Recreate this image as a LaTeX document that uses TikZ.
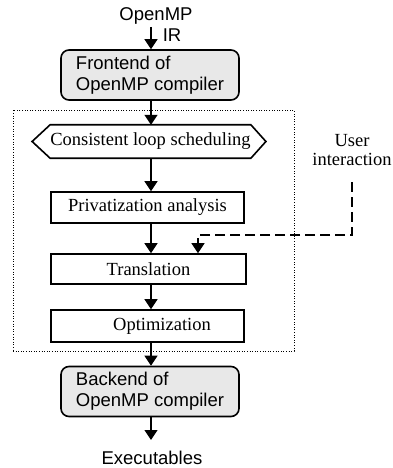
\documentclass[tikz,border=0pt]{standalone}
\usepackage{fontspec}
\setmainfont{Liberation Serif}
\newfontfamily\arialfont{Liberation Sans}
\usetikzlibrary{arrows.meta,calc}
\begin{document}
\begin{tikzpicture}[x=1pt,y=-1pt,
  base/.style={font=\fontsize{18.5}{21}\selectfont, inner sep=0pt},
  sans/.style={base, font=\arialfont\fontsize{18.5}{21}\selectfont},
  gbox/.style={sans, draw, line width=1.6pt, fill=black!9, rounded corners=8pt,
    align=left, minimum width=178pt, minimum height=50pt},
  stepbox/.style={base, draw, line width=1.6pt, minimum height=31pt},
  arr/.style={line width=1.2pt, -{Triangle[width=13pt,length=10pt]}},
  dasharr/.style={arr, dash pattern=on 10pt off 5pt},
]
\useasboundingbox (0,0) rectangle (393,468);
\coordinate (axis) at (151,0);

\node[sans] (omp) at (156,16) {OpenMP};
\node[sans] (ir) at (172,35) {IR};
\coordinate (in) at (151,27);

\node[gbox] (fe) at (150,75) {Frontend of\\OpenMP compiler};

\node[draw, dash pattern=on 1pt off 1.6pt, line width=0.9pt, minimum width=281pt, minimum height=241pt, inner sep=0pt] (grp) at (153.5,230.5) {};

\node[base, minimum width=195pt, minimum height=33pt] (cls) at (150.5,141.5) {Consistent loop scheduling};
\draw[line width=1.6pt, line join=miter]
  (cls.north west) -- (cls.north east) -- ($(cls.east)+(15,0)$) -- (cls.south east)
  -- (cls.south west) -- ($(cls.west)+(-18,0)$) -- cycle;

\node[stepbox, minimum width=193pt] (pa) at (147.5,207.5) {Privatization analysis};
\node[stepbox, minimum width=195pt, minimum height=30pt] (tr) at (148.5,269) {Translation};
\node[stepbox, minimum width=193pt, minimum height=32pt] (opt) at (147.5,326) {\hspace*{29pt}Optimization};

\node[gbox] (be) at (150,391.5) {Backend of\\OpenMP compiler};
\node[sans] (exe) at (152,458) {Executables};
\coordinate (out) at (151,440);

\node[base, align=center, font=\fontsize{18.5}{19}\selectfont] (ui) at (352,150) {User\\interaction};
\coordinate (ud) at (352,182);
\coordinate (uj) at (198,235);

\draw[arr] (in) -- (fe.north -| axis);
\draw[arr] (fe.south -| axis) -- (cls.north -| axis);
\draw[arr] (cls.south -| axis) -- (pa.north -| axis);
\draw[arr] (pa.south -| axis) -- (tr.north -| axis);
\draw[arr] (tr.south -| axis) -- (opt.north -| axis);
\draw[arr] (opt.south -| axis) -- (be.north -| axis);
\draw[arr] (be.south -| axis) -- (out);
\draw[dasharr] (ud) -- (ud |- uj) -- (uj) -- (tr.north -| uj);
\end{tikzpicture}
\end{document}
